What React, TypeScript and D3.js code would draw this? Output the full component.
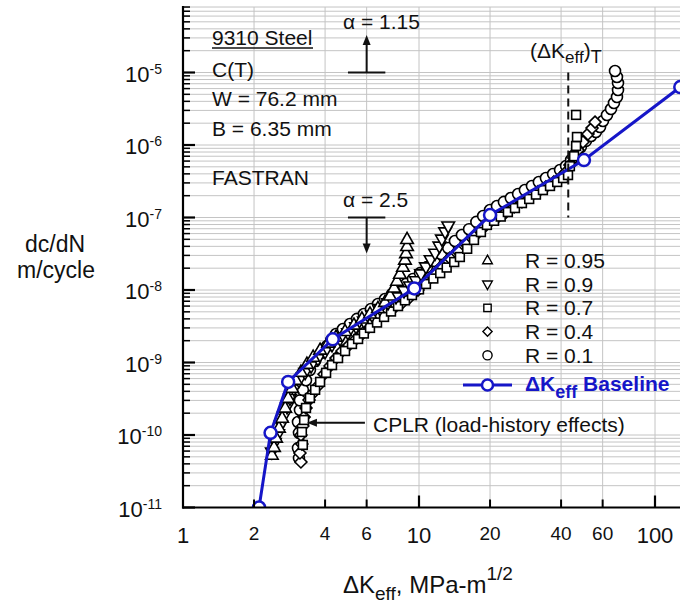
import React from 'react';
import * as d3 from 'd3';

const W = 680;
const H = 603;

// axis ticks
const xMajorTicks = [1, 10, 100];
const xMinorTicks = [2, 4, 6, 20, 40, 60];
const xGridValues = [2, 4, 6, 10, 20, 40, 60, 100];
const yExponents = [-11, -10, -9, -8, -7, -6, -5];

// [dK_eff (MPa-m^1/2), dc/dN (m/cycle)]
const seriesR095: [number, number][] = [
  [2.38, 5.3e-11], [2.43, 6.8e-11], [2.48, 9.1e-11], [2.55, 1.25e-10], [2.63, 1.71e-10],
  [2.71, 2.36e-10], [2.79, 3.24e-10], [2.9, 4.45e-10], [3.01, 5.7e-10], [3.16, 7.4e-10],
  [3.35, 9.5e-10], [3.56, 1.19e-9], [3.81, 1.49e-9], [4.12, 1.86e-9], [4.45, 2.25e-9],
  [4.86, 2.7e-9], [5.3, 3.3e-9], [5.73, 4.0e-9], [6.2, 4.7e-9], [6.7, 5.6e-9],
  [7.18, 6.8e-9], [7.54, 8.3e-9], [7.84, 1.07e-8], [8.07, 1.33e-8], [8.3, 1.66e-8],
  [8.55, 2.07e-8], [8.72, 2.6e-8], [8.81, 3.2e-8], [8.9, 4.0e-8], [8.9, 5.0e-8],
];

const seriesR09: [number, number][] = [
  [2.38, 5.8e-11], [2.45, 7.8e-11], [2.53, 1.03e-10], [2.6, 1.37e-10], [2.68, 1.83e-10],
  [2.76, 2.43e-10], [2.84, 3.2e-10], [2.95, 4.3e-10], [3.1, 5.6e-10], [3.29, 7.2e-10],
  [3.49, 8.9e-10], [3.73, 1.12e-9], [4.0, 1.4e-9], [4.28, 1.74e-9], [4.63, 2.1e-9],
  [5.0, 2.55e-9], [5.41, 3.1e-9], [5.84, 3.7e-9], [6.32, 4.5e-9], [6.83, 5.5e-9],
  [7.39, 6.6e-9], [7.99, 8.0e-9], [8.64, 9.7e-9], [9.16, 1.13e-8], [9.71, 1.33e-8],
  [10.2, 1.66e-8], [10.7, 2.07e-8], [11.2, 2.6e-8], [11.7, 3.2e-8], [12.2, 4.0e-8],
  [12.5, 5.0e-8], [12.9, 6.3e-8], [13.3, 7.6e-8],
];

const seriesR07: [number, number][] = [
  [3.22, 7.3e-11], [3.19, 1.1e-10], [3.26, 1.61e-10], [3.32, 2.36e-10], [3.45, 3.24e-10],
  [3.63, 4.2e-10], [3.81, 5.4e-10], [4.04, 7.2e-10], [4.28, 9.2e-10], [4.54, 1.15e-9],
  [4.86, 1.44e-9], [5.2, 1.8e-9], [5.52, 2.11e-9], [5.84, 2.51e-9], [6.2, 3.0e-9],
  [6.64, 3.56e-9], [7.11, 4.25e-9], [7.61, 5.05e-9], [8.15, 6.0e-9], [8.72, 7.2e-9],
  [9.34, 8.5e-9], [10.0, 1.02e-8], [10.7, 1.21e-8], [11.5, 1.44e-8], [12.3, 1.71e-8],
  [13.1, 2.04e-8], [14.1, 2.43e-8], [14.9, 2.85e-8], [16.0, 3.7e-8], [17.1, 4.9e-8],
  [18.3, 6.3e-8], [19.4, 7.9e-8], [20.8, 9.0e-8], [22.2, 1.03e-7], [23.8, 1.19e-7],
  [25.5, 1.35e-7], [27.3, 1.58e-7], [29.3, 1.8e-7], [31.3, 2.07e-7], [33.5, 2.39e-7],
  [35.9, 2.72e-7], [38.5, 3.09e-7], [40.8, 3.5e-7], [42.8, 3.85e-7], [43.6, 5.1e-7],
  [45.4, 7.0e-7], [46.3, 9.7e-7], [46.7, 1.29e-6], [46.3, 2.6e-6],
];

const seriesR04: [number, number][] = [
  [3.16, 4.25e-11], [3.13, 5.65e-11], [3.19, 7.5e-11], [3.16, 1.0e-10], [3.22, 1.33e-10],
  [3.26, 1.77e-10], [3.32, 2.36e-10], [3.42, 3.04e-10], [3.56, 3.79e-10], [3.73, 4.74e-10],
  [3.96, 6.9e-10], [4.2, 8.95e-10], [4.45, 1.15e-9], [4.72, 1.44e-9], [5.05, 1.74e-9],
  [5.41, 2.11e-9], [5.79, 2.55e-9], [6.2, 3.29e-9], [6.7, 4.11e-9], [7.25, 4.82e-9],
  [7.84, 5.65e-9], [8.47, 6.6e-9], [9.16, 8.0e-9], [9.9, 1.0e-8], [10.7, 1.29e-8],
  [11.6, 1.66e-8], [12.5, 2.14e-8], [13.5, 2.76e-8], [14.6, 3.45e-8], [15.8, 4.3e-8],
  [17.1, 5.4e-8], [18.5, 6.9e-8], [20.0, 8.7e-8], [21.6, 1.02e-7], [23.4, 1.19e-7],
  [25.3, 1.4e-7], [27.3, 1.64e-7], [29.5, 1.92e-7], [31.9, 2.25e-7], [34.5, 2.64e-7],
  [37.3, 3.09e-7], [40.0, 3.62e-7], [42.0, 4.25e-7], [43.6, 5.3e-7], [45.4, 6.6e-7],
  [47.2, 8.5e-7], [49.5, 1.1e-6], [52.0, 1.42e-6], [54.1, 1.71e-6], [55.7, 2.07e-6],
];

const seriesR01: [number, number][] = [
  [3.1, 4.8e-11], [3.07, 6.6e-11], [3.1, 1.07e-10], [3.07, 1.51e-10], [3.13, 2.21e-10],
  [3.13, 3.0e-10], [3.22, 4.2e-10], [3.32, 5.7e-10], [3.45, 7.9e-10], [3.63, 1.05e-9],
  [3.84, 1.35e-9], [4.08, 1.69e-9], [4.25, 2.05e-9], [4.45, 2.47e-9], [4.76, 2.9e-9],
  [5.1, 3.4e-9], [5.46, 4.0e-9], [5.84, 4.67e-9], [6.26, 5.47e-9], [6.7, 6.41e-9],
  [7.18, 7.5e-9], [7.69, 8.8e-9], [8.23, 1.03e-8], [8.81, 1.21e-8], [9.43, 1.42e-8],
  [10.1, 1.71e-8], [10.8, 2.07e-8], [11.6, 2.51e-8], [12.4, 3.14e-8], [13.3, 3.79e-8],
  [14.2, 4.74e-8], [15.2, 5.74e-8], [16.3, 6.9e-8], [17.5, 8.7e-8], [18.7, 1.05e-7],
  [20.0, 1.27e-7], [21.4, 1.44e-7], [22.9, 1.64e-7], [24.5, 1.86e-7], [26.3, 2.11e-7],
  [28.1, 2.39e-7], [30.1, 2.72e-7], [32.2, 3.09e-7], [34.5, 3.5e-7], [37.0, 3.98e-7],
  [39.6, 4.52e-7], [42.0, 5.13e-7], [44.1, 6.21e-7], [46.3, 7.76e-7], [48.5, 9.4e-7],
  [51.0, 1.14e-6], [53.6, 1.33e-6], [56.2, 1.51e-6], [58.5, 1.77e-6], [60.2, 2.14e-6],
  [62.6, 2.59e-6], [65.1, 3.14e-6], [67.0, 3.79e-6], [69.0, 4.59e-6], [69.7, 5.74e-6],
  [69.7, 7.16e-6], [69.0, 8.67e-6], [67.7, 1.05e-5],
];

const baselineK = [2.1, 2.35, 2.79, 4.31, 9.55, 20.0, 50.0, 128];
const baselineRate = [1e-11, 1.07e-10, 5.4e-10, 2.09e-9, 1.05e-8, 1.08e-7, 6.2e-7, 6.3e-6];

const legendLabels = ['R = 0.95', 'R = 0.9', 'R = 0.7', 'R = 0.4', 'R = 0.1'];
const legendShapes = ['up', 'down', 'square', 'diamond', 'circle'];

const infoLines = ['9310 Steel', 'C(T)', 'W = 76.2 mm', 'B = 6.35 mm', 'FASTRAN'];

// annotation values
const kThreshold = 42.9;
const thresholdRange = [1e-7, 1e-5];
const alphaK = 6.0;
const alphaBarK = [5.0, 7.2];
const alphaUp = { bar: 1e-5, tip: 3.3e-5 };
const alphaDown = { bar: 1e-7, tip: 3.2e-8 };
const cplrArrow = { rate: 1.47e-10, kTip: 3.35, kTail: 5.9 };

const BLUE = '#1616c8';
const FONT = "'Liberation Sans', Arial, Helvetica, sans-serif";

const x = d3.scaleLog().domain([1, 1000]).range([183, 183 + 236 * 3]);
const y = d3.scaleLog().domain([1e-11, 1e-4]).range([507.5, 0]);

function marker(shape: string, cx: number, cy: number, s: number, key: any, stroke = '#000', sw = 1.2) {
  const common = { fill: '#fff', stroke, strokeWidth: sw };
  switch (shape) {
    case 'circle':
      return <circle key={key} cx={cx} cy={cy} r={s} {...common} />;
    case 'up':
      return <path key={key} d={`M${cx},${cy - s * 1.15}L${cx + s * 1.05},${cy + s * 0.7}L${cx - s * 1.05},${cy + s * 0.7}Z`} {...common} />;
    case 'down':
      return <path key={key} d={`M${cx},${cy + s * 1.15}L${cx + s * 1.05},${cy - s * 0.7}L${cx - s * 1.05},${cy - s * 0.7}Z`} {...common} />;
    case 'square':
      return <rect key={key} x={cx - s * 0.8} y={cy - s * 0.8} width={s * 1.6} height={s * 1.6} {...common} />;
    case 'diamond':
      return <path key={key} d={`M${cx},${cy - s}L${cx + s},${cy}L${cx},${cy + s}L${cx - s},${cy}Z`} {...common} />;
    default:
      return null;
  }
}

export default function App() {
  const yTop = y(8e-5);
  const xRight = W;
  const yBottom = y(1e-11);
  const xLeft = x(1);

  const hGrid: number[] = [];
  const yMinor: number[] = [];
  for (let e = -11; e <= -5; e++) {
    for (let k = 1; k <= 9; k++) {
      const v = k * Math.pow(10, e);
      if (v > 8.5e-5) continue;
      if (!(e === -11 && k === 1)) hGrid.push(v);
      if (k > 1) yMinor.push(v);
    }
  }

  const drawOrder = [
    { data: seriesR01, shape: 'circle', s: 5.5 },
    { data: seriesR04, shape: 'diamond', s: 6 },
    { data: seriesR07, shape: 'square', s: 5.5 },
    { data: seriesR09, shape: 'down', s: 6 },
    { data: seriesR095, shape: 'up', s: 6 },
  ];

  const lineGen = d3
    .line<number>()
    .x((_, i) => x(baselineK[i]))
    .y((_, i) => y(baselineRate[i]));

  const upX = x(alphaK);

  return (
    <div style={{ position: 'absolute', left: 0, top: 0 }}>
      <svg width={W} height={H} style={{ display: 'block', background: '#fff' }} fontFamily={FONT}>
        <defs>
          <clipPath id="plotClip">
            <rect x={xLeft} y={0} width={xRight - xLeft} height={yBottom} />
          </clipPath>
        </defs>
        <rect x={0} y={0} width={W} height={H} fill="#fff" />

        {/* grid */}
        <g stroke="#c4c4c4" strokeWidth={1}>
          {hGrid.map((v, i) => (
            <line key={'h' + i} x1={xLeft} x2={xRight} y1={y(v)} y2={y(v)} />
          ))}
          {xGridValues.map((v, i) => (
            <line key={'v' + i} x1={x(v)} x2={x(v)} y1={yBottom} y2={yTop} />
          ))}
        </g>

        {/* data */}
        <g clipPath="url(#plotClip)">
          {drawOrder.map((s, si) => (
            <g key={si}>{s.data.map((d, i) => marker(s.shape, x(d[0]), y(d[1]), s.s, i, '#000', 1.6))}</g>
          ))}
          <path d={lineGen(baselineK) || ''} fill="none" stroke={BLUE} strokeWidth={3} />
          {baselineK.map((k, i) => (
            <circle key={'b' + i} cx={x(k)} cy={y(baselineRate[i])} r={6} fill="#fff" stroke={BLUE} strokeWidth={2.5} />
          ))}
        </g>

        {/* axes */}
        <g stroke="#000">
          <line x1={xLeft} x2={xLeft} y1={yBottom + 1} y2={yTop - 1} strokeWidth={2.2} />
          <line x1={xLeft - 1} x2={xRight} y1={yBottom} y2={yBottom} strokeWidth={2.2} />
          {yExponents.map((e) => (
            <line key={'ym' + e} x1={xLeft} x2={xLeft + 12} y1={y(Math.pow(10, e))} y2={y(Math.pow(10, e))} strokeWidth={2.2} />
          ))}
          {yMinor.map((v, i) => (
            <line key={'yn' + i} x1={xLeft} x2={xLeft + 7} y1={y(v)} y2={y(v)} strokeWidth={1.5} />
          ))}
          {xMajorTicks.filter((t) => t > 1).map((t) => (
            <line key={'xm' + t} x1={x(t)} x2={x(t)} y1={yBottom} y2={yBottom - 12} strokeWidth={2.2} />
          ))}
          {xMinorTicks.map((t) => (
            <line key={'xn' + t} x1={x(t)} x2={x(t)} y1={yBottom} y2={yBottom - 8} strokeWidth={2} />
          ))}
        </g>

        {/* y tick labels */}
        {yExponents.map((e) => (
          <text key={'yl' + e} x={162} y={y(Math.pow(10, e)) + 9} textAnchor="end" fontSize={22} fill="#111">
            10<tspan fontSize={14} dy={-8}>{String(e)}</tspan>
          </text>
        ))}
        {/* x tick labels */}
        {xMajorTicks.map((t) => (
          <text key={'xl' + t} x={x(t)} y={543} textAnchor="middle" fontSize={22} fill="#111">
            {t}
          </text>
        ))}
        {xMinorTicks.map((t) => (
          <text key={'xn' + t} x={x(t)} y={540} textAnchor="middle" fontSize={19} fill="#111">
            {t}
          </text>
        ))}

        {/* axis titles */}
        <text x={55} y={252} textAnchor="middle" fontSize={23} fill="#111">dc/dN</text>
        <text x={56} y={278} textAnchor="middle" fontSize={23} fill="#111">m/cycle</text>
        <text x={343} y={593} fontSize={24} fill="#111">
          ΔK<tspan fontSize={19} dy={7}>eff</tspan>
          <tspan dy={-7}>, MPa-m</tspan>
          <tspan fontSize={19} dy={-13}>1/2</tspan>
        </text>

        {/* info block */}
        {infoLines.map((t, i) => (
          <text key={'info' + i} x={212} y={[45, 76.5, 106, 136, 185][i]} fontSize={21} fill="#111">
            {t}
          </text>
        ))}
        <line x1={212} x2={313} y1={48} y2={48} stroke="#111" strokeWidth={1.5} />

        {/* alpha annotations */}
        <text x={343} y={29} fontSize={21} fill="#111">α = 1.15</text>
        <g stroke="#111" strokeWidth={2}>
          <line x1={x(alphaBarK[0])} x2={x(alphaBarK[1])} y1={y(alphaUp.bar)} y2={y(alphaUp.bar)} />
          <line x1={upX} x2={upX} y1={y(alphaUp.bar)} y2={y(alphaUp.tip) + 8} />
        </g>
        <path d={`M${upX},${y(alphaUp.tip)}L${upX + 4},${y(alphaUp.tip) + 10}L${upX - 4},${y(alphaUp.tip) + 10}Z`} fill="#111" />

        <text x={343} y={207} fontSize={21} fill="#111">α = 2.5</text>
        <g stroke="#111" strokeWidth={2}>
          <line x1={x(alphaBarK[0])} x2={x(alphaBarK[1])} y1={y(alphaDown.bar)} y2={y(alphaDown.bar)} />
          <line x1={upX} x2={upX} y1={y(alphaDown.bar)} y2={y(alphaDown.tip) - 8} />
        </g>
        <path d={`M${upX},${y(alphaDown.tip)}L${upX + 4},${y(alphaDown.tip) - 10}L${upX - 4},${y(alphaDown.tip) - 10}Z`} fill="#111" />

        {/* threshold dashed line */}
        <line
          x1={x(kThreshold)}
          x2={x(kThreshold)}
          y1={y(thresholdRange[1])}
          y2={y(thresholdRange[0])}
          stroke="#111"
          strokeWidth={2}
          strokeDasharray="8,5"
        />
        <text x={530} y={58} fontSize={21} fill="#111">
          (ΔK<tspan fontSize={17} dy={5}>eff</tspan>
          <tspan dy={-5}>)</tspan>
          <tspan fontSize={18} dy={5}>T</tspan>
        </text>

        {/* CPLR annotation */}
        <line x1={x(cplrArrow.kTail)} x2={x(cplrArrow.kTip) + 8} y1={y(cplrArrow.rate)} y2={y(cplrArrow.rate)} stroke="#111" strokeWidth={2} />
        <path
          d={`M${x(cplrArrow.kTip)},${y(cplrArrow.rate)}L${x(cplrArrow.kTip) + 10},${y(cplrArrow.rate) - 4}L${x(cplrArrow.kTip) + 10},${y(cplrArrow.rate) + 4}Z`}
          fill="#111"
        />
        <text x={373} y={431.7} fontSize={21} fill="#111">CPLR (load-history effects)</text>

        {/* legend */}
        {legendLabels.map((lab, i) => {
          const by = 268 + i * 23.7;
          return (
            <g key={'lg' + i}>
              {marker(legendShapes[i], 487.5, by - 7.5, 4.6, 'm' + i, '#000', 1.4)}
              <text x={525} y={by} fontSize={21} fill="#111">{lab}</text>
            </g>
          );
        })}
        <line x1={463} x2={512} y1={385} y2={385} stroke={BLUE} strokeWidth={3} />
        <circle cx={487.5} cy={385} r={5.5} fill="#fff" stroke={BLUE} strokeWidth={2.5} />
        <text x={525} y={391} fontSize={21} fontWeight="bold" fill={BLUE}>
          ΔK<tspan fontSize={18} dy={7}>eff</tspan>
          <tspan dy={-7}> Baseline</tspan>
        </text>
      </svg>
    </div>
  );
}
